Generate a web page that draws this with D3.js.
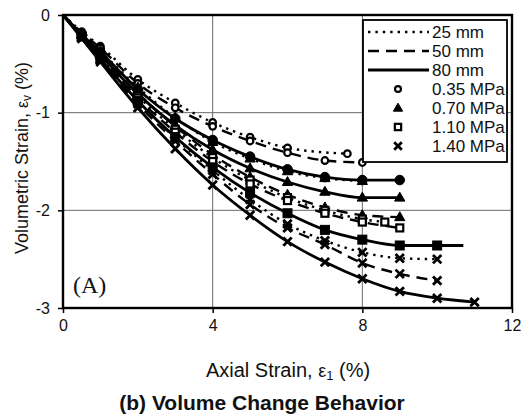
<!DOCTYPE html>
<html>
<head>
<meta charset="utf-8">
<script src="https://cdn.jsdelivr.net/npm/d3@7"></script>
<style>
  html, body { margin: 0; padding: 0; background: #fff; }
  svg { display: block; }
  text { font-family: "Liberation Sans", Arial, sans-serif; fill: #111; }
</style>
</head>
<body>
<svg id="chart" width="529" height="419"></svg>
<script>
// Confining pressures and sample sizes
const pressures = ["0.35 MPa", "0.70 MPa", "1.10 MPa", "1.40 MPa"];
const sizes = ["25 mm", "50 mm", "80 mm"];
const xTicks = [0, 4, 8, 12];
const yTicks = [0, -1, -2, -3];

// Volumetric strain (%) vs axial strain (%), one array per test
const p035_25 = [[0,0],[0.5,-0.17],[1,-0.32],[2,-0.66],[3,-0.90],[4,-1.10],[5,-1.25],[6,-1.36],[7.6,-1.42]];
const p035_50 = [[0,0],[0.5,-0.18],[1,-0.34],[2,-0.70],[3,-0.95],[4,-1.14],[5,-1.29],[6,-1.41],[7,-1.49],[8,-1.51]];
const p035_80 = [[0,0],[0.5,-0.20],[1,-0.38],[2,-0.76],[3,-1.06],[4,-1.28],[5,-1.45],[6,-1.58],[7,-1.66],[8,-1.69],[9,-1.69]];
const p070_25 = [[0,0],[0.5,-0.19],[1,-0.37],[2,-0.74],[3,-1.05],[4,-1.30],[5,-1.47],[6,-1.60],[7,-1.67],[8,-1.70]];
const p070_50 = [[0,0],[0.5,-0.20],[1,-0.40],[2,-0.80],[3,-1.14],[4,-1.43],[5,-1.66],[6,-1.84],[7,-1.97],[8,-2.05],[9,-2.07]];
const p070_80 = [[0,0],[0.5,-0.21],[1,-0.41],[2,-0.81],[3,-1.13],[4,-1.38],[5,-1.57],[6,-1.71],[7,-1.81],[8,-1.87],[9,-1.87]];
const p110_25 = [[0,0],[0.5,-0.21],[1,-0.42],[2,-0.83],[3,-1.17],[4,-1.46],[5,-1.69],[6,-1.87],[7,-2.00],[8,-2.09],[8.6,-2.12]];
const p110_50 = [[0,0],[0.5,-0.22],[1,-0.43],[2,-0.85],[3,-1.20],[4,-1.50],[5,-1.73],[6,-1.90],[7,-2.03],[8,-2.12],[9,-2.18]];
const p110_80 = [[0,0],[0.5,-0.22],[1,-0.45],[2,-0.88],[3,-1.25],[4,-1.56],[5,-1.82],[6,-2.03],[7,-2.20],[8,-2.30],[9,-2.36],[10,-2.36],[10.7,-2.36]];
const p140_25 = [[0,0],[0.5,-0.23],[1,-0.45],[2,-0.88],[3,-1.26],[4,-1.59],[5,-1.89],[6,-2.14],[7,-2.31],[8,-2.43],[9,-2.49],[10,-2.50]];
const p140_50 = [[0,0],[0.5,-0.23],[1,-0.46],[2,-0.91],[3,-1.29],[4,-1.63],[5,-1.94],[6,-2.18],[7,-2.35],[8,-2.54],[9,-2.65],[10,-2.72]];
const p140_80 = [[0,0],[0.5,-0.24],[1,-0.48],[2,-0.95],[3,-1.37],[4,-1.74],[5,-2.05],[6,-2.32],[7,-2.53],[8,-2.70],[9,-2.83],[10,-2.90],[11,-2.94]];

// [data, pressure index, size index, trailing points drawn without a marker]
const series = [
  [p035_25, 0, 0, 0], [p035_50, 0, 1, 0], [p035_80, 0, 2, 0],
  [p070_25, 1, 0, 0], [p070_50, 1, 1, 0], [p070_80, 1, 2, 0],
  [p110_25, 2, 0, 0], [p110_50, 2, 1, 0], [p110_80, 2, 2, 1],
  [p140_25, 3, 0, 0], [p140_50, 3, 1, 0], [p140_80, 3, 2, 0]
];

const svg = d3.select("#chart");
const x = d3.scaleLinear().domain([0, 12]).range([63, 512]);
const y = d3.scaleLinear().domain([-3, 0]).range([308, 15]);

const lineStyles = [
  { dash: "2.4,5", width: 2.4 },
  { dash: "11,7", width: 2.4 },
  { dash: null, width: 2.8 }
];

// grid
const grid = svg.append("g");
grid.selectAll("line.gx").data([4, 8]).join("line")
  .attr("x1", d => x(d)).attr("x2", d => x(d))
  .attr("y1", y(0)).attr("y2", y(-3))
  .attr("stroke", "#6a6a6a").attr("stroke-width", 1);
grid.selectAll("line.gy").data([-1, -2]).join("line")
  .attr("x1", x(0)).attr("x2", x(12))
  .attr("y1", d => y(d)).attr("y2", d => y(d))
  .attr("stroke", "#6a6a6a").attr("stroke-width", 1);

// axes
const xAxis = d3.axisBottom(x).tickValues(xTicks).tickFormat(d3.format("d")).tickSize(5).tickPadding(7);
const yAxis = d3.axisLeft(y).tickValues(yTicks).tickFormat(d => d === 0 ? "0" : String(d)).tickSize(5).tickPadding(8);

const gx = svg.append("g").attr("transform", `translate(0,${y(-3)})`).call(xAxis);
const gy = svg.append("g").attr("transform", `translate(${x(0)},0)`).call(yAxis);
[gx, gy].forEach(g => {
  g.select(".domain").remove();
  g.selectAll(".tick line").attr("stroke", "#000").attr("stroke-width", 1.5);
  g.selectAll(".tick text").attr("font-size", 16).attr("fill", "#111")
    .style("font-family", "'Liberation Sans', Arial, sans-serif");
});

// frame
svg.append("rect")
  .attr("x", x(0)).attr("y", y(0))
  .attr("width", x(12) - x(0)).attr("height", y(-3) - y(0))
  .attr("fill", "none").attr("stroke", "#000").attr("stroke-width", 2.4);

// curves
const line = d3.line().x(d => x(d[0])).y(d => y(d[1])).curve(d3.curveMonotoneX);
const plot = svg.append("g");
series.forEach(([data, , si]) => {
  const st = lineStyles[si];
  plot.append("path")
    .attr("d", line(data))
    .attr("fill", "none")
    .attr("stroke", "#000")
    .attr("stroke-width", st.width)
    .attr("stroke-dasharray", st.dash);
});

// markers
function marker(g, pi, filled, cx, cy, scale) {
  const s = scale || 1;
  if (pi === 0) {
    g.append("circle").attr("cx", cx).attr("cy", cy)
      .attr("r", (filled ? 4.8 : 3.3) * s)
      .attr("fill", filled ? "#000" : "#fff")
      .attr("stroke", "#000").attr("stroke-width", filled ? 1 : 2.2);
  } else if (pi === 1) {
    g.append("path")
      .attr("d", d3.symbol(d3.symbolTriangle, 46 * s * s)())
      .attr("transform", `translate(${cx},${cy + 0.5})`)
      .attr("fill", "#000").attr("stroke", "#000").attr("stroke-width", 1);
  } else if (pi === 2) {
    const h = (filled ? 4.5 : 3.5) * s;
    g.append("rect").attr("x", cx - h).attr("y", cy - h)
      .attr("width", 2 * h).attr("height", 2 * h)
      .attr("fill", filled ? "#000" : "#fff")
      .attr("stroke", "#000").attr("stroke-width", filled ? 1 : 2.2);
  } else {
    const h = 4.2 * s;
    g.append("path")
      .attr("d", `M${cx - h},${cy - h}L${cx + h},${cy + h}M${cx - h},${cy + h}L${cx + h},${cy - h}`)
      .attr("stroke", "#000").attr("stroke-width", 2.8).attr("fill", "none");
  }
}
series.forEach(([data, pi, si, plain]) => {
  const pts = data.slice(1, data.length - plain);
  pts.forEach(d => marker(plot, pi, si === 2, x(d[0]), y(d[1])));
});

// legend
const lg = svg.append("g");
lg.append("rect").attr("x", 363).attr("y", 20).attr("width", 144).attr("height", 142)
  .attr("fill", "#fff").attr("stroke", "#000").attr("stroke-width", 1.8);
const rowY = i => 32 + i * 19;
sizes.forEach((s, i) => {
  const st = lineStyles[i];
  lg.append("line").attr("x1", 368).attr("x2", 429)
    .attr("y1", rowY(i)).attr("y2", rowY(i))
    .attr("stroke", "#000").attr("stroke-width", st.width)
    .attr("stroke-dasharray", st.dash);
  lg.append("text").attr("x", 432).attr("y", rowY(i) + 6)
    .attr("font-size", 17).text(s);
});
pressures.forEach((p, i) => {
  const ry = rowY(i + 3);
  marker(lg, i, false, 398, ry, 0.9);
  lg.append("text").attr("x", 432).attr("y", ry + 6)
    .attr("font-size", 17).text(p);
});

// panel tag
svg.append("text").attr("x", 73).attr("y", 293)
  .style("font-family", "'Liberation Serif', 'Times New Roman', serif")
  .attr("font-size", 24).text("(A)");

// axis titles
const xt = svg.append("text").attr("x", 288).attr("y", 377)
  .attr("text-anchor", "middle").attr("font-size", 20);
xt.append("tspan").text("Axial Strain, ");
xt.append("tspan").attr("font-size", 18).text("ε");
xt.append("tspan").attr("font-size", 13).attr("dy", 3).text("1");
xt.append("tspan").attr("dy", -3).text(" (%)");

const yt = svg.append("text")
  .attr("transform", `translate(28,158) rotate(-90)`)
  .attr("text-anchor", "middle").attr("font-size", 18);
yt.append("tspan").text("Volumetric Strain, ");
yt.append("tspan").attr("font-size", 16).text("ε");
yt.append("tspan").attr("font-size", 12).attr("dy", 3).text("v");
yt.append("tspan").attr("dy", -3).text(" (%)");

svg.append("text").attr("x", 262).attr("y", 410)
  .attr("text-anchor", "middle").attr("font-size", 21).attr("font-weight", "bold")
  .text("(b) Volume Change Behavior");
</script>
</body>
</html>
